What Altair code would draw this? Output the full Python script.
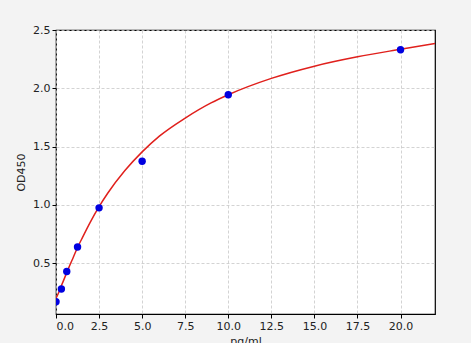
import altair as alt
import pandas as pd

# measured standards
conc = [0.0, 0.3125, 0.625, 1.25, 2.5, 5.0, 10.0, 20.0]
od = [0.17, 0.28, 0.43, 0.64, 0.975, 1.375, 1.945, 2.33]

# fitted curve
curve_x = [0.0, 0.1, 0.25, 0.5, 0.75, 1.0, 1.25, 1.5, 2.0, 2.5, 3.0, 4.0, 5.0, 6.0, 7.5, 9.0, 10.0, 12.5, 15.0, 17.5, 20.0, 22.0]
curve_y = [0.20, 0.23, 0.285, 0.375, 0.465, 0.55, 0.635, 0.71, 0.855, 0.985, 1.10, 1.295, 1.455, 1.59, 1.745, 1.875, 1.945, 2.085, 2.19, 2.27, 2.335, 2.385]

x_ticks = [0, 2.5, 5, 7.5, 10, 12.5, 15, 17.5, 20]
y_ticks = [0.5, 1.0, 1.5, 2.0, 2.5]

pts = pd.DataFrame({"x": conc, "y": od})
crv = pd.DataFrame({"x": curve_x, "y": curve_y})

xs = alt.Scale(domain=[0, 22], nice=False, zero=False)
ys = alt.Scale(domain=[0.065, 2.5], nice=False, zero=False)

xaxis = alt.Axis(values=x_ticks, format=".1f", title="pg/ml", grid=True,
                 gridDash=[3, 2], gridColor="#c8c8c8", gridWidth=0.8,
                 tickColor="black", tickSize=4, domain=False,
                 labelFontSize=11, labelColor="#222", titleFontSize=11,
                 titleFontWeight="normal", titleColor="#222", titlePadding=4,
                 labelFont="DejaVu Sans", titleFont="DejaVu Sans")
yaxis = alt.Axis(values=y_ticks, format=".1f", title="OD450", grid=True,
                 gridDash=[3, 2], gridColor="#c8c8c8", gridWidth=0.8,
                 tickColor="black", tickSize=4, domain=False,
                 labelFontSize=11, labelColor="#222", titleFontSize=11,
                 titleFontWeight="normal", titleColor="#222", titlePadding=6,
                 labelFont="DejaVu Sans", titleFont="DejaVu Sans")

line = alt.Chart(crv).mark_line(color="#e0201c", strokeWidth=1.5, clip=True,
                                interpolate="monotone").encode(
    x=alt.X("x:Q", scale=xs, axis=xaxis),
    y=alt.Y("y:Q", scale=ys, axis=yaxis),
)
points = alt.Chart(pts).mark_circle(color="#0000e0", size=55, opacity=1, clip=True).encode(
    x=alt.X("x:Q", scale=xs),
    y=alt.Y("y:Q", scale=ys),
)

chart = alt.layer(line, points).properties(
    width=379, height=284,
    autosize=alt.AutoSizeParams(type="none"),
    padding={"left": 56, "top": 30, "right": 36, "bottom": 29},
    background="#f3f3f3",
).configure_view(stroke="black", strokeWidth=1.2, fill="white")

chart.save("out.html", embed_options={"renderer": "svg", "actions": False})
